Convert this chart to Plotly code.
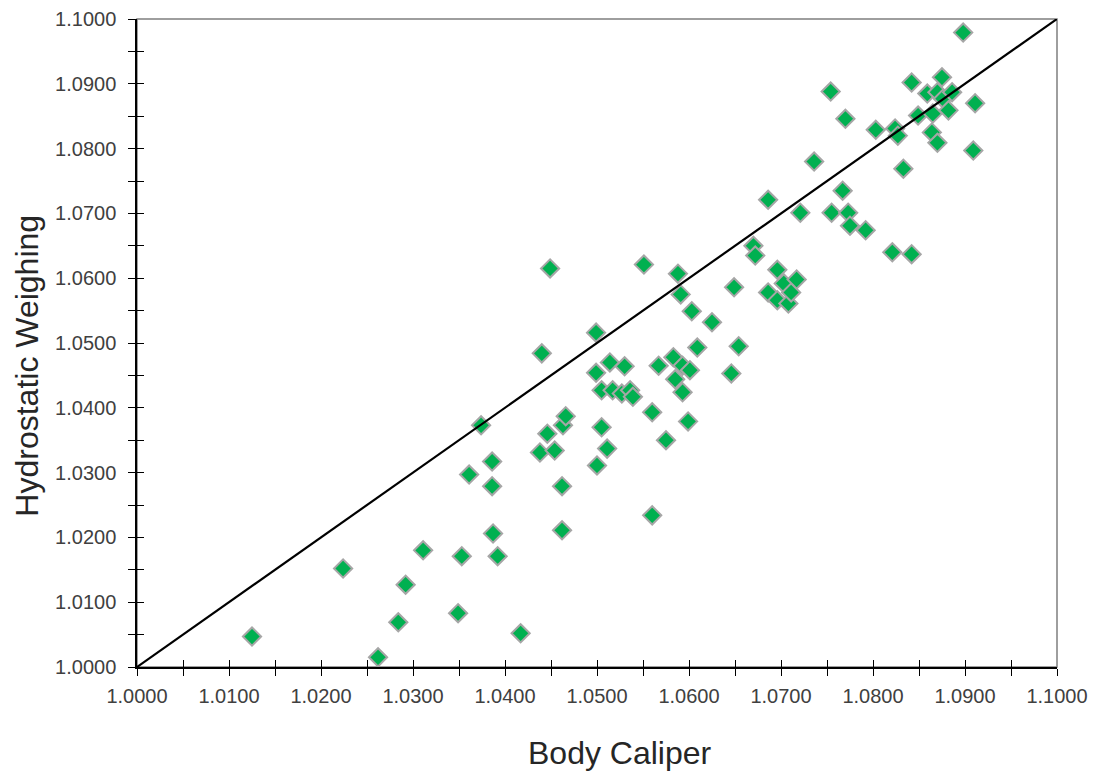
import plotly.graph_objects as go

body_caliper = [
    1.0125, 1.0224, 1.0262, 1.0284, 1.0292, 1.0311, 1.0349, 1.0353, 1.0361, 1.0374,
    1.0386, 1.0386, 1.0387, 1.0392, 1.0417, 1.0438, 1.0440, 1.0446, 1.0449, 1.0454,
    1.0462, 1.0462, 1.0463, 1.0466, 1.0499, 1.0499, 1.0500, 1.0505, 1.0505, 1.0511,
    1.0514, 1.0517, 1.0530, 1.0527, 1.0536, 1.0539, 1.0551, 1.0560, 1.0560, 1.0567,
    1.0575, 1.0583, 1.0585, 1.0588, 1.0591, 1.0593, 1.0593, 1.0599, 1.0601, 1.0603,
    1.0609, 1.0625, 1.0646, 1.0649, 1.0654, 1.0670, 1.0672, 1.0686, 1.0686, 1.0696,
    1.0696, 1.0703, 1.0708, 1.0711, 1.0717, 1.0721, 1.0736, 1.0754, 1.0755, 1.0767,
    1.0770, 1.0773, 1.0775, 1.0792, 1.0803, 1.0821, 1.0824, 1.0827, 1.0833, 1.0842,
    1.0842, 1.0849, 1.0859, 1.0870, 1.0865, 1.0864, 1.0870, 1.0875, 1.0876, 1.0882,
    1.0886, 1.0898, 1.0911, 1.0909,
]
hydrostatic = [
    1.0047, 1.0152, 1.0015, 1.0069, 1.0127, 1.0180, 1.0083, 1.0171, 1.0297, 1.0373,
    1.0317, 1.0279, 1.0206, 1.0171, 1.0052, 1.0331, 1.0484, 1.0360, 1.0615, 1.0334,
    1.0279, 1.0211, 1.0373, 1.0387, 1.0516, 1.0454, 1.0311, 1.0370, 1.0427, 1.0337,
    1.0470, 1.0427, 1.0464, 1.0422, 1.0427, 1.0417, 1.0621, 1.0393, 1.0234, 1.0465,
    1.0350, 1.0478, 1.0444, 1.0607, 1.0575, 1.0465, 1.0424, 1.0379, 1.0458, 1.0549,
    1.0493, 1.0532, 1.0453, 1.0586, 1.0495, 1.0650, 1.0635, 1.0578, 1.0721, 1.0613,
    1.0566, 1.0592, 1.0561, 1.0578, 1.0598, 1.0701, 1.0780, 1.0888, 1.0701, 1.0735,
    1.0846, 1.0701, 1.0681, 1.0674, 1.0829, 1.0640, 1.0831, 1.0820, 1.0769, 1.0902,
    1.0637, 1.0851, 1.0885, 1.0887, 1.0854, 1.0825, 1.0809, 1.0910, 1.0877, 1.0859,
    1.0887, 1.0979, 1.0870, 1.0797,
]
identity_line = [1.0, 1.1]
axis_range = [1.0, 1.1]
x_title = "Body Caliper"
y_title = "Hydrostatic Weighing"

FONT = "Liberation Sans, Arial, sans-serif"

fig = go.Figure()
fig.add_trace(go.Scatter(
    x=body_caliper, y=hydrostatic, mode="markers",
    marker=dict(symbol="diamond", size=14, color="#00B050",
                line=dict(color="#A6A6A6", width=2)),
    showlegend=False,
))
fig.add_trace(go.Scatter(
    x=identity_line, y=identity_line, mode="lines",
    line=dict(color="black", width=2.2), showlegend=False,
))
# overlay axes to make ticks cross the axis lines
fig.add_trace(go.Scatter(x=[None], y=[None], xaxis="x2", yaxis="y2",
                         showlegend=False, hoverinfo="skip"))

font_lbl = dict(family=FONT, size=20, color="#404040")
title_font = dict(size=32, color="#262626", family=FONT)
fig.update_layout(
    width=1101, height=774,
    margin=dict(l=129, r=52, t=11, b=115, autoexpand=False),
    paper_bgcolor="white", plot_bgcolor="white",
    font=dict(family=FONT),
    xaxis=dict(
        range=axis_range, dtick=0.01, tick0=1.0, tickformat=".4f",
        ticks="outside", ticklen=7, tickcolor="black", tickwidth=1.3,
        minor=dict(dtick=0.005, ticks="outside", ticklen=7, tickcolor="black", tickwidth=1.3),
        showline=True, linecolor="black", linewidth=1.5,
        showgrid=False, zeroline=False, tickfont=font_lbl, ticklabelstandoff=3,
        automargin=False,
    ),
    yaxis=dict(
        range=axis_range, dtick=0.01, tick0=1.0, tickformat=".4f",
        ticks="outside", ticklen=7, tickcolor="black", tickwidth=1.3,
        minor=dict(dtick=0.005, ticks="outside", ticklen=7, tickcolor="black", tickwidth=1.3),
        showline=True, linecolor="black", linewidth=1.5,
        showgrid=False, zeroline=False, tickfont=font_lbl, ticklabelstandoff=8,
        automargin=False,
    ),
    xaxis2=dict(
        overlaying="x", anchor="y2", side="bottom", range=axis_range,
        dtick=0.005, tick0=1.0, ticks="inside", ticklen=7, tickcolor="black", tickwidth=1.3,
        showticklabels=False, showline=False, showgrid=False, zeroline=False,
    ),
    yaxis2=dict(
        overlaying="y", anchor="x2", side="left", range=axis_range,
        dtick=0.005, tick0=1.0, ticks="inside", ticklen=7, tickcolor="black", tickwidth=1.3,
        showticklabels=False, showline=False, showgrid=False, zeroline=False,
    ),
    shapes=[dict(type="rect", xref="paper", yref="paper", x0=0, y0=0, x1=1, y1=1,
                 line=dict(color="#7F7F7F", width=1.5), layer="below")],
    annotations=[
        dict(text=x_title, xref="paper", yref="paper", x=0.525, y=-0.132,
             xanchor="center", yanchor="middle", showarrow=False, font=title_font),
        dict(text=y_title, xref="paper", yref="paper", x=-0.1196, y=0.465,
             xanchor="center", yanchor="middle", showarrow=False, textangle=-90,
             font=title_font),
    ],
)

fig.write_html("out.html")
